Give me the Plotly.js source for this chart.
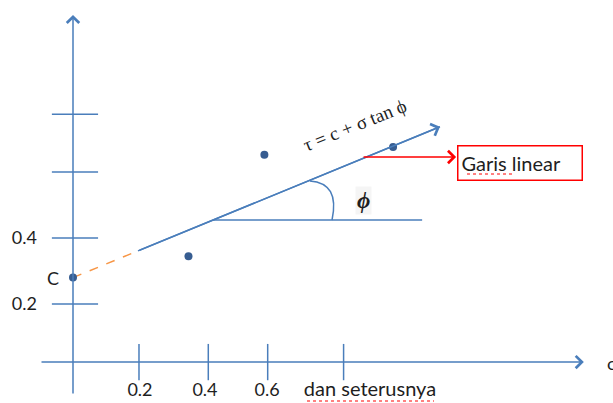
<!DOCTYPE html>
<html>
<head>
<meta charset="utf-8">
<script src="https://cdn.plot.ly/plotly-3.0.1.min.js"></script>
<style>html,body{margin:0;padding:0;background:#fff;}#chart{width:613px;height:403px;}</style>
</head>
<body>
<div id="chart"></div>
<script>
// ---- data (diagram units: 1 unit = 330 px on both axes) ----
const xTickMarks = [0.2, 0.41, 0.59, 0.82];
const xLabelPos = [0.203, 0.40, 0.588, 0.90];
const xTickText = ['0.2', '0.4', '0.6', '<span style="font-size:20px">dan seterusnya</span>'];
const yTickVals = [0.2, 0.4, 0.6, 0.775];
const yTickText = ['0.2', '0.4', '', ''];

const pointX = [0.35, 0.58, 0.97];
const pointY = [0.345, 0.652, 0.676];
const cX = [0];
const cY = [0.28];

const dashX = [0, 0.197];
const dashY = [0.28, 0.361];
const fitX = [0.197, 1.112];
const fitY = [0.361, 0.737];

const horizX = [0.424, 1.058];
const horizY = [0.4545, 0.4545];

const arcX = [0.718, 0.809, 0.785];
const arcY = [0.573, 0.5667, 0.4545];

const redArrowX = [0.876, 1.161];
const redArrowY = [0.6455, 0.6455];

const axisXLine = [-0.1, 1.548];   // horizontal axis extent
const axisXAt = 0.024;             // height of horizontal axis
const axisYLine = [-0.076, 1.076]; // vertical axis extent
const axisYAt = 0;

const xRange = [-0.2212, 1.6364];
const yRange = [-0.1, 1.1212];

// ---- styles ----
const blue = '#4a7ebb';
const dotBlue = '#375d91';
const orange = '#f79646';
const red = '#ff0000';
const txt = '#1e1e1e';
const sans = 'Lato, Open Sans, sans-serif';
const serif = 'Liberation Serif, DejaVu Serif, serif';

const traces = [
  {x: dashX, y: dashY, mode: 'lines', line: {color: orange, width: 1.5, dash: 'dash'}, hoverinfo: 'skip'},
  {x: fitX, y: fitY, mode: 'lines', line: {color: blue, width: 1.5}, name: 'Garis linear'},
  {x: horizX, y: horizY, mode: 'lines', line: {color: blue, width: 1.5}},
  {x: pointX, y: pointY, mode: 'markers', marker: {color: dotBlue, size: 8}},
  {x: cX, y: cY, mode: 'markers', marker: {color: dotBlue, size: 8}}
];

const shapes = [];
// tick marks crossing the axes
xTickMarks.forEach(v => shapes.push({type: 'line', xref: 'x', yref: 'y', x0: v, x1: v, y0: axisXAt - 0.055, y1: axisXAt + 0.055, line: {color: blue, width: 1.5}}));
yTickVals.forEach(v => shapes.push({type: 'line', xref: 'x', yref: 'y', x0: axisYAt - 0.064, x1: axisYAt + 0.076, y0: v, y1: v, line: {color: blue, width: 1.5}}));
// angle arc
shapes.push({type: 'path', xref: 'x', yref: 'y',
  path: `M ${arcX[0]},${arcY[0]} Q ${arcX[1]},${arcY[1]} ${arcX[2]},${arcY[2]}`,
  line: {color: blue, width: 1.5}});
// spell-check underlines
shapes.push({type: 'line', xref: 'paper', yref: 'paper', x0: 467/613, x1: 512/613, y0: 1 - 174/403, y1: 1 - 174/403, line: {color: red, width: 1, dash: 'dot'}});
shapes.push({type: 'line', xref: 'paper', yref: 'paper', x0: 307/613, x1: 434/613, y0: 1 - 401/403, y1: 1 - 401/403, line: {color: red, width: 1, dash: 'dot'}});

function arrow(x0, y0, x1, y1, color) {
  return {x: x1, y: y1, ax: x0, ay: y0, xref: 'x', yref: 'y', axref: 'x', ayref: 'y',
    text: '', showarrow: true, arrowhead: 4, arrowsize: 1.6, arrowwidth: 1.5, arrowcolor: color, standoff: 0, startstandoff: 0};
}

const annotations = [
  arrow(axisXLine[0], axisXAt, axisXLine[1], axisXAt, blue),
  arrow(axisYAt, axisYLine[0], axisYAt, axisYLine[1], blue),
  arrow(fitX[0], fitY[0], fitX[1], fitY[1], blue),
  arrow(redArrowX[0], redArrowY[0], redArrowX[1], redArrowY[1], red),
  {x: 1.1636, y: 0.627, xref: 'x', yref: 'y', xanchor: 'left', yanchor: 'middle', text: 'Garis linear',
    showarrow: false, font: {family: sans, size: 20, color: txt}, align: 'left',
    bordercolor: red, borderwidth: 1.5, borderpad: 3, width: 117, height: 27},
  {x: 0.852, y: 0.742, xref: 'x', yref: 'y', text: 'τ = c + σ tan ϕ', textangle: -22, showarrow: false,
    font: {family: serif, size: 19, color: txt}},
  {x: 0.879, y: 0.515, xref: 'x', yref: 'y', text: '<b><i>ϕ</i></b>', showarrow: false,
    font: {family: serif, size: 23, color: txt}, bgcolor: '#f5f5f5'},
  {x: -0.062, y: 0.279, xref: 'x', yref: 'y', text: 'C', showarrow: false,
    font: {family: sans, size: 18, color: txt}},
  {x: 1.612, y: 0.02, xref: 'x', yref: 'y', xanchor: 'left', text: 'σ', showarrow: false,
    font: {family: sans, size: 18, color: txt}}
];

const layout = {
  width: 613, height: 403,
  margin: {l: 0, r: 0, t: 0, b: 0},
  paper_bgcolor: '#ffffff', plot_bgcolor: '#ffffff',
  showlegend: false,
  xaxis: {range: xRange, showgrid: false, zeroline: false, showline: false,
    anchor: 'free', position: (axisXAt - yRange[0]) / (yRange[1] - yRange[0]),
    tickmode: 'array', tickvals: xLabelPos, ticktext: xTickText, ticks: '',
    ticklabelstandoff: 15, tickfont: {family: sans, size: 18, color: txt}, fixedrange: true},
  yaxis: {range: yRange, showgrid: false, zeroline: false, showline: false,
    anchor: 'free', position: (axisYAt - xRange[0]) / (xRange[1] - xRange[0]),
    tickmode: 'array', tickvals: yTickVals, ticktext: yTickText, ticks: '',
    ticklabelstandoff: 36, tickfont: {family: sans, size: 18, color: txt}, fixedrange: true},
  shapes: shapes,
  annotations: annotations
};

Plotly.newPlot('chart', traces, layout, {displayModeBar: false, staticPlot: true});
</script>
</body>
</html>
